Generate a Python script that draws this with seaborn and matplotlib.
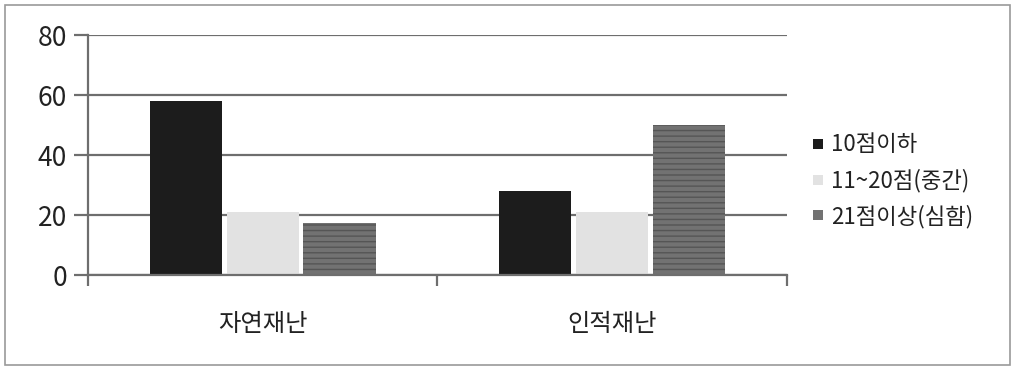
import matplotlib
matplotlib.use("Agg")
import matplotlib.pyplot as plt
import seaborn as sns
import pandas as pd
from matplotlib.lines import Line2D
from matplotlib.patches import Rectangle

categories = ["자연재난", "인적재난"]
series = ["10점이하", "11~20점(중간)", "21점이상(심함)"]
low_vals = [58, 28]
mid_vals = [21, 21]
high_vals = [17.5, 50]
colors = ["#1c1c1c", "#e2e2e2", "#727272"]
yticks = [0, 20, 40, 60, 80]

sns.set_theme(style="white")
plt.rcParams["font.family"] = ["Noto Sans CJK KR", "DejaVu Sans"]
plt.rcParams["hatch.linewidth"] = 1.0

rows = []
for s, vals in zip(series, [low_vals, mid_vals, high_vals]):
    for c, v in zip(categories, vals):
        rows.append({"category": c, "series": s, "value": v})
df = pd.DataFrame(rows)

fig = plt.figure(figsize=(10.15, 3.69), dpi=100)
ax = fig.add_axes([0.0867, 0.2547, 0.6885, 0.6503])

ax.set_axisbelow(True)
sns.barplot(data=df, x="category", y="value", hue="series", order=categories,
            hue_order=series, palette=colors, width=0.66, gap=0.06,
            saturation=1, ax=ax, legend=False, linewidth=0)

# texture on the "severe" series bars
for cont, s in zip(ax.containers, series):
    if s == series[2]:
        for p in cont:
            p.set_hatch("---")
            p.set_edgecolor("#555555")
            p.set_linewidth(0)

ax.set_ylim(0, 80)
ax.set_xlim(-0.5, 1.5)
ax.set_yticks(yticks)
ax.yaxis.grid(True, color="#6e6e6e", linewidth=1.6)
ax.xaxis.grid(False)
for side in ["top", "right"]:
    ax.spines[side].set_visible(False)
for side in ["left", "bottom"]:
    ax.spines[side].set_color("#6e6e6e")
    ax.spines[side].set_linewidth(1.6)
ax.set_xlabel("")
ax.set_ylabel("")
ax.tick_params(axis="y", which="major", direction="out", length=10, width=1.6,
               color="#6e6e6e", labelsize=19, labelcolor="#222222", pad=5, left=True)
ax.tick_params(axis="x", which="major", length=0, labelsize=17.5,
               labelcolor="#222222", pad=26)
ax.set_xticks([-0.5, 0.5, 1.5], minor=True)
ax.tick_params(axis="x", which="minor", direction="out", length=8, width=1.6,
               color="#6e6e6e", bottom=True)

handles = [Line2D([0], [0], marker="s", linestyle="none", markersize=7,
                  markerfacecolor=c, markeredgewidth=0) for c in colors]
fig.legend(handles, series, loc="center left", bbox_to_anchor=(0.800, 0.51),
           frameon=False, fontsize=16, labelspacing=0.55, handlelength=0.5,
           handletextpad=0.35, borderpad=0, borderaxespad=0, labelcolor="#222222")

fig.patches.append(Rectangle((0.005, 0.012), 0.990, 0.975, transform=fig.transFigure,
                             fill=False, edgecolor="#9a9a9a", linewidth=1.2))

fig.savefig("out.png", dpi=100, facecolor="white")
